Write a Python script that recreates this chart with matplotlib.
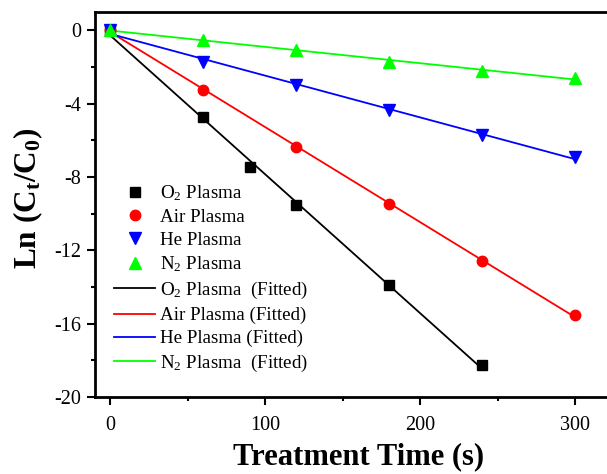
import numpy as np
import matplotlib
matplotlib.use("Agg")
import matplotlib.pyplot as plt
from matplotlib.ticker import MultipleLocator

plt.rcParams['font.family'] = ['Liberation Serif', 'DejaVu Serif']
plt.rcParams['mathtext.fontset'] = 'custom'
plt.rcParams['mathtext.rm'] = 'Liberation Serif'
plt.rcParams['mathtext.it'] = 'Liberation Serif:italic'
plt.rcParams['mathtext.bf'] = 'Liberation Serif:bold'
plt.rcParams['axes.unicode_minus'] = False

# Data
t_o2 = [0, 60, 90, 120, 180, 240]
ln_o2 = [0, -4.75, -7.45, -9.55, -13.9, -18.25]
t_air = [0, 60, 120, 180, 240, 300]
ln_air = [0, -3.25, -6.35, -9.45, -12.6, -15.55]
t_he = [0, 60, 120, 180, 240, 300]
ln_he = [0, -1.7, -3.0, -4.35, -5.7, -6.9]
t_n2 = [0, 60, 120, 180, 240, 300]
ln_n2 = [0, -0.5, -1.05, -1.75, -2.2, -2.58]

series = [
    (t_o2, ln_o2, 'black', 's', 6.5, 'O$_2$ Plasma', 'O$_2$ Plasma  (Fitted)'),
    (t_air, ln_air, '#FF0000', 'o', 7.5, 'Air Plasma', 'Air Plasma (Fitted)'),
    (t_he, ln_he, '#0000FF', 'v', 8, 'He Plasma', 'He Plasma (Fitted)'),
    (t_n2, ln_n2, '#00FF00', '^', 8, 'N$_2$ Plasma', 'N$_2$ Plasma  (Fitted)'),
]

fig = plt.figure(figsize=(6.07, 4.74), dpi=100)
ax = fig.add_axes([95/607, 1-397/474, 1-95/607, (397-12)/474])

marker_handles = []
line_handles = []
for t, y, c, m, ms, lab, flab in series:
    h = ax.plot(t, y, linestyle='none', marker=m, color=c, markersize=ms, label=lab, zorder=3)[0]
    marker_handles.append(h)
for t, y, c, m, ms, lab, flab in series:
    k, b = np.polyfit(t, y, 1)
    tt = np.array([t[0], t[-1]])
    h = ax.plot(tt, k*tt + b, color=c, linewidth=1.3, label=flab, zorder=2)[0]
    line_handles.append(h)

ax.set_xlim(-9.7, 320.6)
ax.set_ylim(-20, 1)
ax.xaxis.set_major_locator(MultipleLocator(100))
ax.xaxis.set_minor_locator(MultipleLocator(50))
ax.yaxis.set_major_locator(MultipleLocator(4))
ax.yaxis.set_minor_locator(MultipleLocator(2))

for s in ['left', 'bottom', 'top']:
    ax.spines[s].set_linewidth(2)
ax.spines['right'].set_visible(False)
ax.tick_params(which='major', direction='out', length=6, width=1.5, labelsize=14.5)
ax.tick_params(axis='x', which='major', pad=8)
ax.tick_params(axis='y', which='major', pad=4)
ax.tick_params(which='minor', direction='out', length=3, width=1.5)
ax.tick_params(top=False, right=False, which='both')

ax.set_xlabel('Treatment Time (s)', fontsize=22, fontweight='bold')
ax.xaxis.set_label_coords(0.514, -0.118)
ax.set_ylabel(r'Ln (C$_\mathbf{t}$/C$_\mathbf{0}$)', fontsize=22.5, fontweight='bold')
ax.yaxis.set_label_coords(-0.097, 0.515)

leg = ax.legend(handles=marker_handles + line_handles, loc='upper left',
                bbox_to_anchor=(0.014, 0.585), frameon=False, fontsize=13.7,
                handlelength=2.2, handletextpad=0.25, labelspacing=0.3,
                borderaxespad=0.2, numpoints=1)

fig.savefig('out.png', dpi=100)
